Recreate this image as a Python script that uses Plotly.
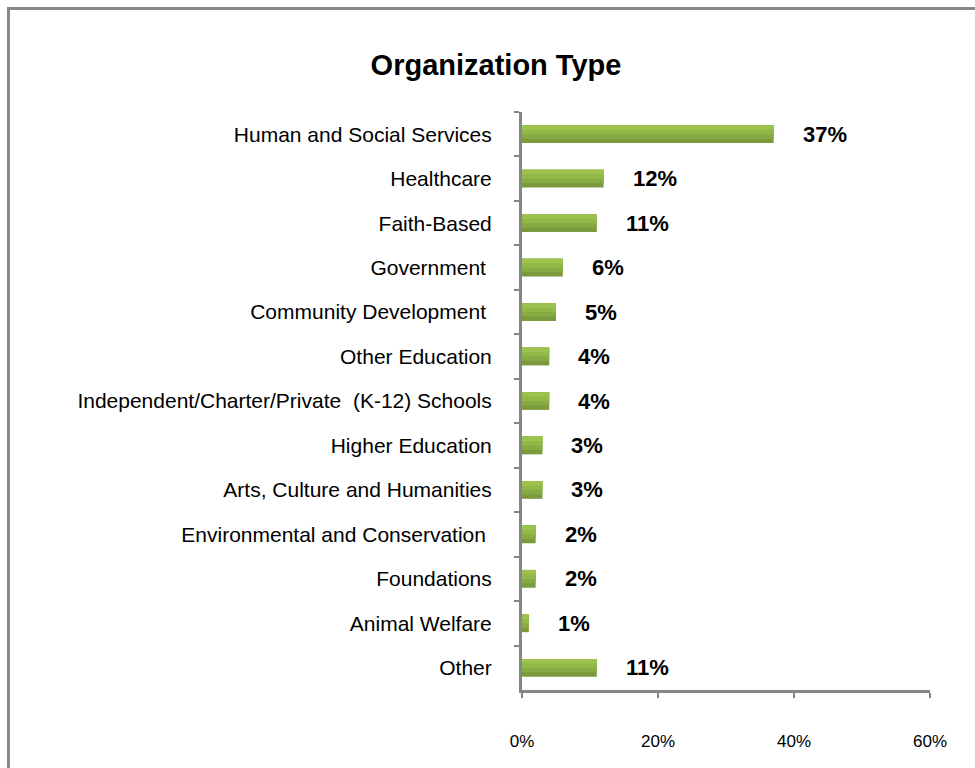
import plotly.graph_objects as go

# Categories top to bottom, as in the chart
categories = ['Human and Social Services', 'Healthcare', 'Faith-Based', 'Government ',
              'Community Development ', 'Other Education',
              'Independent/Charter/Private  (K-12) Schools', 'Higher Education',
              'Arts, Culture and Humanities', 'Environmental and Conservation ',
              'Foundations', 'Animal Welfare', 'Other']
values = [37, 12, 11, 6, 5, 4, 4, 3, 3, 2, 2, 1, 11]
labels = ['37%', '12%', '11%', '6%', '5%', '4%', '4%', '3%', '3%', '2%', '2%', '1%', '11%']
x_ticks = [0, 20, 40, 60]
x_tick_text = ['0%', '20%', '40%', '60%']

# Fake the vertical gradient of the Excel bars: dark full bar first,
# then lighter, shorter layers stacked from the top edge down
band_colors = ['#7a9a3d', '#87ab43', '#92b848', '#9dc34e']

FONT = "Liberation Sans, Arial, sans-serif"

fig = go.Figure()
for i, col in enumerate(band_colors):
    fig.add_trace(go.Bar(x=values, y=categories, orientation='h',
                         width=0.4 - 0.1 * i, offset=-0.2,
                         marker=dict(color=col, line=dict(width=0)),
                         showlegend=False, hoverinfo='skip'))

# Bold value labels to the right of each bar
for cat, val, lab in zip(categories, values, labels):
    fig.add_annotation(x=val, y=cat, text=f"<b>{lab}</b>", showarrow=False,
                       xanchor='left', xshift=27, yshift=0,
                       font=dict(family=FONT, size=22, color='black'))

# Outer chart border (runs off the right and bottom of the window)
fig.add_shape(type='rect', xref='paper', yref='paper',
              x0=(8.5 - 522) / 408, x1=(990 - 522) / 408,
              y0=(690 - 790) / 578, y1=(690 - 8.5) / 578,
              line=dict(color='#888888', width=3), layer='below')

fig.update_layout(
    width=975, height=768,
    margin=dict(l=522, r=45, t=112, b=78),
    paper_bgcolor='white', plot_bgcolor='white',
    barmode='overlay',
    font=dict(family=FONT, color='black'),
    title=dict(text='<b>Organization Type</b>', x=496 / 975, xanchor='center',
               y=1 - 65 / 768, yanchor='middle',
               font=dict(family=FONT, size=29, color='black')),
    xaxis=dict(range=[0, 60], tickvals=x_ticks, ticktext=x_tick_text,
               showgrid=False, zeroline=False, showline=True,
               linecolor='#868686', linewidth=3,
               ticks='outside', ticklen=5, tickwidth=2, tickcolor='#868686',
               ticklabelstandoff=29,
               tickfont=dict(family=FONT, size=17, color='black'), fixedrange=True),
    yaxis=dict(autorange='reversed', showgrid=False, zeroline=False, showline=True,
               linecolor='#868686', linewidth=3,
               ticks='outside', ticklen=5, tickwidth=2, tickcolor='#868686',
               tickson='boundaries', ticklabelstandoff=23,
               tickfont=dict(family=FONT, size=21, color='black'), fixedrange=True),
)

# Drop the default 8px page margin so the figure sits at the window's corner
fig.write_html("out.html", config={"displayModeBar": False},
               post_script="document.body.style.margin='0';")
